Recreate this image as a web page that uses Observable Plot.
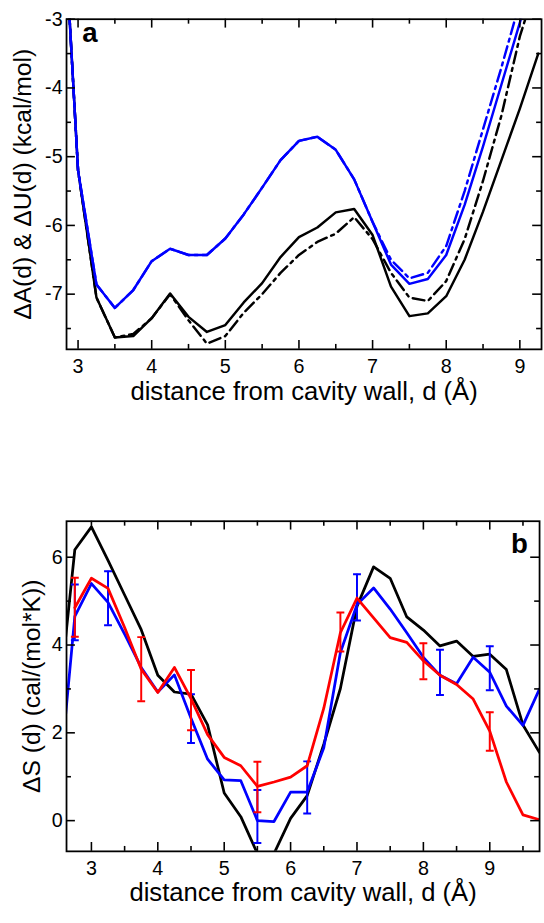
<!DOCTYPE html>
<html>
<head>
<meta charset="utf-8">
<script src="https://cdn.jsdelivr.net/npm/d3@7"></script>
<script src="https://cdn.jsdelivr.net/npm/@observablehq/plot@0.6"></script>
<style>
  html, body { margin: 0; padding: 0; background: #fff; overflow: hidden; width: 544px; height: 923px; }
  #chart svg { display: block; }
</style>
</head>
<body>
<div id="chart"></div>
<script>
// ---------- Panel a data ----------
const dA = [2.75, 3.0, 3.25, 3.5, 3.75, 4.0, 4.25, 4.5, 4.75, 5.0, 5.25, 5.5, 5.75, 6.0, 6.25, 6.5, 6.75, 7.0, 7.25, 7.5, 7.75, 8.0, 8.25, 8.5, 8.75, 9.0, 9.25];
const blueSolidA = [-0.4, -5.2, -6.86, -7.20, -6.94, -6.52, -6.34, -6.43, -6.43, -6.19, -5.84, -5.45, -5.05, -4.77, -4.71, -4.90, -5.33, -5.95, -6.57, -6.85, -6.78, -6.43, -5.70, -4.85, -3.95, -3.05, -2.15];
const blueDashA  = [-0.4, -5.2, -6.86, -7.20, -6.94, -6.52, -6.34, -6.43, -6.43, -6.19, -5.84, -5.45, -5.05, -4.77, -4.71, -4.90, -5.33, -5.95, -6.50, -6.77, -6.69, -6.30, -5.50, -4.60, -3.70, -2.75, -1.90];
const blackSolidA = [-0.4, -5.2, -7.05, -7.63, -7.61, -7.35, -6.99, -7.33, -7.55, -7.45, -7.12, -6.84, -6.46, -6.17, -6.03, -5.81, -5.76, -6.14, -6.89, -7.32, -7.28, -7.03, -6.50, -5.80, -5.05, -4.30, -3.50];
const blackDashA  = [-0.4, -5.2, -7.05, -7.63, -7.58, -7.35, -7.00, -7.38, -7.72, -7.61, -7.27, -7.00, -6.69, -6.43, -6.24, -6.12, -5.88, -6.20, -6.69, -7.05, -7.10, -6.81, -6.20, -5.35, -4.40, -3.25, -2.40];
const xTicksA = [3, 4, 5, 6, 7, 8, 9];
const xMinorA = [3.5, 4.5, 5.5, 6.5, 7.5, 8.5];
const yTicksA = [-3, -4, -5, -6, -7];
const yMinorA = [-3.5, -4.5, -5.5, -6.5, -7.5];

// ---------- Panel b data ----------
const dB = [2.5, 2.75, 3.0, 3.25, 3.5, 3.75, 4.0, 4.25, 4.5, 4.75, 5.0, 5.25, 5.5, 5.75, 6.0, 6.25, 6.5, 6.75, 7.0, 7.25, 7.5, 7.75, 8.0, 8.25, 8.5, 8.75, 9.0, 9.25, 9.5, 9.75];
const blackB = [2.55, 6.17, 6.69, 5.93, 5.14, 4.35, 3.31, 2.93, 2.88, 2.18, 0.63, 0.09, -0.75, -0.75, 0.05, 0.57, 1.74, 3.01, 4.88, 5.78, 5.52, 4.64, 4.34, 3.98, 4.09, 3.74, 3.79, 3.44, 2.18, 1.55];
const blueB  = [0.6, 4.65, 5.40, 4.97, 4.25, 3.49, 2.93, 3.32, 2.33, 1.40, 0.93, 0.91, 0.0, -0.02, 0.65, 0.65, 1.66, 3.83, 4.92, 5.30, 4.82, 4.28, 3.72, 3.31, 3.12, 3.72, 3.38, 2.61, 2.17, 3.0];
const dRedB  = [2.75, 3.0, 3.25, 3.5, 3.75, 4.0, 4.25, 4.5, 4.75, 5.0, 5.25, 5.5, 5.75, 6.0, 6.25, 6.5, 6.75, 7.0, 7.25, 7.5, 7.75, 8.0, 8.25, 8.5, 8.75, 9.0, 9.25, 9.5, 9.75];
const redB   = [4.85, 5.52, 5.29, 4.40, 3.45, 2.92, 3.49, 2.78, 1.96, 1.44, 1.25, 0.78, 0.88, 0.99, 1.25, 2.56, 4.28, 5.07, 4.62, 4.17, 4.06, 3.64, 3.31, 3.10, 2.77, 2.04, 0.88, 0.13, 0.02];
const redErrD  = [2.75, 3.75, 4.5, 5.5, 6.75, 8.0, 9.0];
const redErrLo = [4.19, 2.72, 2.06, 0.19, 3.85, 3.22, 1.59];
const redErrHi = [5.53, 4.18, 3.43, 1.34, 4.74, 4.04, 2.47];
const blueErrD  = [2.75, 3.25, 4.5, 5.5, 6.25, 7.0, 8.25, 9.0];
const blueErrLo = [4.11, 4.45, 1.77, -0.51, 0.16, 4.56, 2.86, 2.97];
const blueErrHi = [5.38, 5.68, 2.88, 0.70, 1.35, 5.61, 3.89, 3.97];
const xTicksB = [3, 4, 5, 6, 7, 8, 9];
const xMinorB = [3.5, 4.5, 5.5, 6.5, 7.5, 8.5, 9.5];
const yTicksB = [0, 2, 4, 6];
const yMinorB = [1, 3, 5];

const xTitle = "distance from cavity wall, d (Å)";
const yTitleA = "ΔA(d) & ΔU(d) (kcal/mol)";
const yTitleB = "ΔS (d) (cal/(mol*K))";

const FONT = "'Liberation Sans', Arial, Helvetica, sans-serif";
const BLUE = "#0000ff", RED = "#ff0000", BLACK = "#000000";

const series = (xs, ys) => xs.map((x, i) => ({x, y: ys[i]}));
const errs = (xs, lo, hi) => xs.map((x, i) => ({x, lo: lo[i], hi: hi[i]}));

// horizontal cap symbol for error bars
const capSymbol = {
  draw(context, size) {
    const r = Math.sqrt(size / Math.PI);
    context.moveTo(-r, 0);
    context.lineTo(r, 0);
  }
};

function frameTicks(xMaj, xMin, yMaj, yMin, innerW, innerH, majLen, minLen) {
  const sw = 1.6;
  return [
    Plot.tickX(xMaj, {x: d => d, insetTop: innerH - majLen, stroke: BLACK, strokeWidth: sw}),
    Plot.tickX(xMaj, {x: d => d, insetBottom: innerH - majLen, stroke: BLACK, strokeWidth: sw}),
    Plot.tickX(xMin, {x: d => d, insetTop: innerH - minLen, stroke: BLACK, strokeWidth: sw}),
    Plot.tickX(xMin, {x: d => d, insetBottom: innerH - minLen, stroke: BLACK, strokeWidth: sw}),
    Plot.tickY(yMaj, {y: d => d, insetRight: innerW - majLen, stroke: BLACK, strokeWidth: sw}),
    Plot.tickY(yMaj, {y: d => d, insetLeft: innerW - majLen, stroke: BLACK, strokeWidth: sw}),
    Plot.tickY(yMin, {y: d => d, insetRight: innerW - minLen, stroke: BLACK, strokeWidth: sw}),
    Plot.tickY(yMin, {y: d => d, insetLeft: innerW - minLen, stroke: BLACK, strokeWidth: sw})
  ];
}

// ---------- Panel a ----------
const WA = 552, HA = 440, mLA = 67, mRA = 3, mTA = 19, mBA = 86;
const innerWA = WA - mLA - mRA, innerHA = HA - mTA - mBA;
const plotA = Plot.plot({
  width: WA, height: HA,
  marginLeft: mLA, marginRight: mRA, marginTop: mTA, marginBottom: mBA,
  style: {fontFamily: FONT, color: BLACK, background: "white", overflow: "visible"},
  x: {domain: [2.8434, 9.2944]},
  y: {domain: [-7.803, -3]},
  marks: [
    Plot.line(series(dA, blackSolidA), {x: "x", y: "y", stroke: BLACK, strokeWidth: 2.5, clip: true}),
    Plot.line(series(dA, blackDashA), {x: "x", y: "y", stroke: BLACK, strokeWidth: 2.5, strokeDasharray: "12,5,3,5", clip: true}),
    Plot.line(series(dA, blueSolidA), {x: "x", y: "y", stroke: BLUE, strokeWidth: 2.5, clip: true}),
    Plot.line(series(dA, blueDashA), {x: "x", y: "y", stroke: BLUE, strokeWidth: 2.5, strokeDasharray: "12,5,3,5", clip: true}),
    ...frameTicks(xTicksA, xMinorA, yTicksA, yMinorA, innerWA, innerHA, 9, 5),
    Plot.frame({stroke: BLACK, strokeWidth: 1.8}),
    Plot.axisX({ticks: xTicksA, tickSize: 0, tickPadding: 10, fontSize: 20, label: null, tickFormat: d => String(d)}),
    Plot.axisY({ticks: yTicksA, tickSize: 0, tickPadding: 4, fontSize: 20, label: null, tickFormat: d => String(d)}),
    Plot.text([xTitle], {text: d => d, frameAnchor: "bottom", dy: 33, textAnchor: "middle", lineAnchor: "top", fontSize: 26, fill: BLACK}),
    Plot.text([yTitleA], {text: d => d, frameAnchor: "left", dx: -44, rotate: -90, textAnchor: "middle", lineAnchor: "middle", fontSize: 25, fill: BLACK}),
    Plot.text(["a"], {text: d => d, frameAnchor: "top-left", dx: 16, dy: 3, textAnchor: "start", lineAnchor: "top", fontSize: 28, fontWeight: "bold", fill: BLACK})
  ]
});

// ---------- Panel b ----------
const WB = 552, HB = 483, mLB = 67, mRB = 5, mTB = 88, mBB = 60;
const innerWB = WB - mLB - mRB, innerHB = HB - mTB - mBB;
const redErr = errs(redErrD, redErrLo, redErrHi);
const blueErr = errs(blueErrD, blueErrLo, blueErrHi);
const plotB = Plot.plot({
  width: WB, height: HB,
  marginLeft: mLB, marginRight: mRB, marginTop: mTB, marginBottom: mBB,
  style: {fontFamily: FONT, color: BLACK, background: "white", overflow: "visible"},
  x: {domain: [2.625, 9.75]},
  y: {domain: [-0.7, 6.82]},
  marks: [
    Plot.line(series(dB, blackB), {x: "x", y: "y", stroke: BLACK, strokeWidth: 2.8, clip: true}),
    Plot.line(series(dB, blueB), {x: "x", y: "y", stroke: BLUE, strokeWidth: 2.8, clip: true}),
    Plot.ruleX(blueErr, {x: "x", y1: "lo", y2: "hi", stroke: BLUE, strokeWidth: 2, clip: true}),
    Plot.dot(blueErr, {x: "x", y: "lo", symbol: capSymbol, r: 4, fill: "none", stroke: BLUE, strokeWidth: 2, clip: true}),
    Plot.dot(blueErr, {x: "x", y: "hi", symbol: capSymbol, r: 4, fill: "none", stroke: BLUE, strokeWidth: 2, clip: true}),
    Plot.line(series(dRedB, redB), {x: "x", y: "y", stroke: RED, strokeWidth: 2.8, clip: true}),
    Plot.ruleX(redErr, {x: "x", y1: "lo", y2: "hi", stroke: RED, strokeWidth: 2, clip: true}),
    Plot.dot(redErr, {x: "x", y: "lo", symbol: capSymbol, r: 4, fill: "none", stroke: RED, strokeWidth: 2, clip: true}),
    Plot.dot(redErr, {x: "x", y: "hi", symbol: capSymbol, r: 4, fill: "none", stroke: RED, strokeWidth: 2, clip: true}),
    ...frameTicks(xTicksB, xMinorB, yTicksB, yMinorB, innerWB, innerHB, 9, 5),
    Plot.frame({stroke: BLACK, strokeWidth: 1.8}),
    Plot.axisX({ticks: xTicksB, tickSize: 0, tickPadding: 10, fontSize: 20, label: null, tickFormat: d => String(d)}),
    Plot.axisY({ticks: yTicksB, tickSize: 0, tickPadding: 4, fontSize: 20, label: null, tickFormat: d => String(d)}),
    Plot.text([xTitle], {text: d => d, frameAnchor: "bottom", dy: 32, textAnchor: "middle", lineAnchor: "top", fontSize: 26, fill: BLACK}),
    Plot.text([yTitleB], {text: d => d, frameAnchor: "left", dx: -35, rotate: -90, textAnchor: "middle", lineAnchor: "middle", fontSize: 25, fill: BLACK}),
    Plot.text(["b"], {text: d => d, frameAnchor: "top-right", dx: -12, dy: 12, textAnchor: "end", lineAnchor: "top", fontSize: 28, fontWeight: "bold", fill: BLACK})
  ]
});

const chart = document.getElementById("chart");
chart.appendChild(plotA);
chart.appendChild(plotB);
</script>
</body>
</html>
